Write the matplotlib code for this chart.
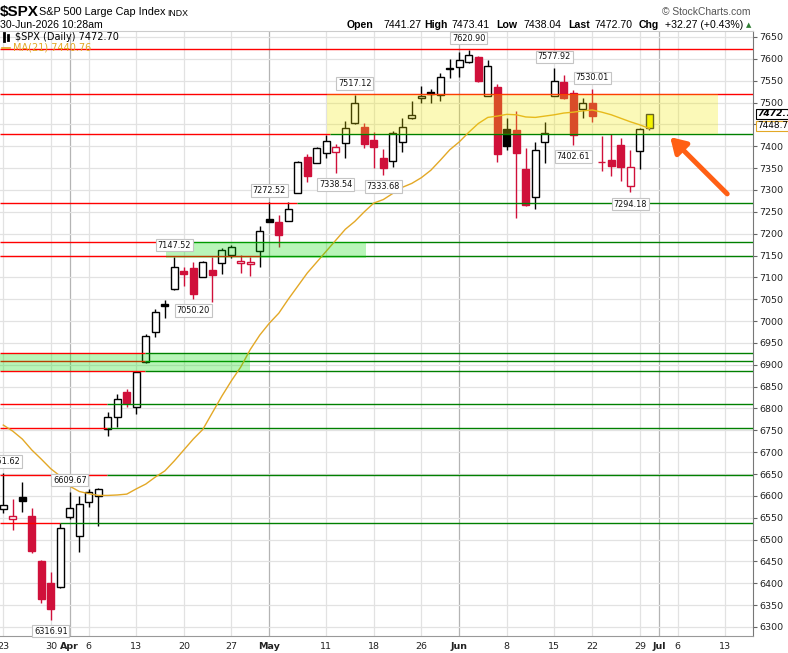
import numpy as np
import matplotlib
matplotlib.use("Agg")
import matplotlib.pyplot as plt
from matplotlib.patches import Rectangle

# ---- data --------------------------------------------------------------
# trading days from 23-Mar-2026 to 30-Jun-2026 (index 0..68)
opens = [6571, 6547, 6597, 6554, 6451, 6400, 6391, 6552, 6508, 6586,
         6600, 6753, 6781, 6838, 6803, 6906, 6975, 7039, 7073, 7115,
         7121, 7101, 7117, 7133, 7151, 7133, 7130, 7160, 7233, 7227,
         7229, 7293, 7375, 7362, 7385, 7387, 7407, 7453, 7444, 7414,
         7373, 7366, 7410, 7465, 7510, 7524, 7517, 7579, 7581, 7593,
         7604, 7515, 7536, 7439, 7437, 7348, 7284, 7410, 7515, 7547,
         7522, 7485, 7499, 7365, 7369, 7403, 7309, 7389, 7441.27]
highs = [6651.62, 6593, 6632, 6572, 6453, 6426, 6538, 6609.67, 6600, 6616,
         6617, 6792, 6833, 6845, 6884, 6970, 7028, 7048, 7147.52, 7124,
         7135, 7137, 7147, 7167, 7174, 7151, 7147, 7217, 7272.52, 7243,
         7272, 7366, 7382, 7398, 7426, 7405, 7458, 7517.12, 7453, 7433,
         7394, 7435, 7465, 7504, 7538, 7531, 7567, 7600, 7616, 7620.90,
         7606, 7597, 7542, 7465, 7481, 7396, 7410, 7455, 7577.92, 7563,
         7529, 7510, 7530.01, 7423, 7428, 7419, 7391, 7441, 7473.41]
lows = [6561, 6522, 6563, 6469, 6355, 6316.91, 6389, 6548, 6472, 6574,
        6531, 6737, 6758, 6803, 6787, 6903, 6964, 7007, 7072, 7080,
        7050.20, 7100, 7044, 7108, 7144, 7110, 7103, 7124, 7226, 7170,
        7229, 7292, 7318, 7361, 7373, 7338.54, 7373, 7452, 7396, 7350,
        7333.68, 7353, 7387, 7462, 7499, 7499, 7504, 7556, 7558, 7590,
        7547, 7514, 7364, 7391, 7236, 7263, 7256, 7362, 7514, 7508,
        7402.61, 7465, 7455, 7343, 7332, 7320, 7294.18, 7348, 7438.04]
closes = [6579, 6554, 6588, 6474, 6364, 6341, 6526, 6572, 6581, 6609,
          6616, 6780, 6822, 6812, 6883, 6966, 7021, 7035, 7124, 7108,
          7062, 7135, 7105, 7163, 7170, 7137, 7135, 7206, 7227, 7197,
          7256, 7364, 7332, 7396, 7412, 7398, 7442, 7499, 7405, 7398,
          7350, 7430, 7444, 7471, 7515, 7520, 7558, 7577, 7597, 7609,
          7549, 7584, 7382, 7400, 7385, 7266, 7391, 7430, 7549, 7510,
          7426, 7499, 7469, 7363, 7355, 7353, 7352, 7439, 7472.70]
ma21 = [6762, 6748, 6730, 6705, 6684, 6662, 6645, 6622, 6610, 6605,
        6601, 6601, 6602, 6604, 6616, 6627, 6643, 6657, 6680, 6705,
        6730, 6752, 6790, 6828, 6863, 6895, 6935, 6968, 6995, 7018,
        7050, 7080, 7110, 7135, 7160, 7185, 7210, 7228, 7250, 7270,
        7278, 7292, 7306, 7315, 7328, 7345, 7368, 7392, 7410, 7432,
        7452, 7466, 7469, 7473, 7472, 7467, 7466, 7469, 7472, 7476,
        7478, 7481, 7483, 7478, 7472, 7464, 7456, 7449, 7440.76]

# x-axis labels (trading-day index, text); month names are bold
tick_idx = [0, 5, 7, 9, 14, 19, 24, 28, 34, 39, 44, 48, 53, 58, 62, 67, 69, 71, 76]
tick_txt = ["23", "30", "Apr", "6", "13", "20", "27", "May", "11", "18", "26",
            "Jun", "8", "15", "22", "29", "Jul", "6", "13"]
tick_month = ["Apr", "May", "Jun", "Jul"]

# horizontal levels: price, index where line turns from red to green
levels = [7622, 7519, 7428, 7270, 7181, 7150, 6927, 6909, 6886, 6810, 6755, 6648, 6538]
level_switch = [None, None, 34.4, 30.9, 17.1, 27.0, 14.9, 14.9, 14.9, 10.9, 10.9, 10.9, 6.0]

# shaded zones: (start idx, end idx, low, high, colour)
zones = [(17.1, 38.2, 7144, 7181, "#00dd00"),
         (-0.4, 26.0, 6886, 6924, "#00dd00"),
         (34.1, 75.2, 7428, 7519, "#f2ea00")]

# price call-outs: (index, text, above/below)
callouts = [(0, "6651.62", 1), (7, "6609.67", 1), (5, "6316.91", -1),
            (20, "7050.20", -1), (18, "7147.52", 1), (28, "7272.52", 1),
            (35, "7338.54", -1), (40, "7333.68", -1), (37, "7517.12", 1),
            (49, "7620.90", 1), (58, "7577.92", 1), (62, "7530.01", 1),
            (60, "7402.61", -1), (66, "7294.18", -1)]

W, H = 788, 653
PX0, STEP = 3.3, 9.5          # pixel of first candle, pixels per day
PLOT_R, PLOT_T, PLOT_B = 752.5, 31, 636
PPT = 0.437                   # pixels per index point

fig = plt.figure(figsize=(W / 100, H / 100), dpi=100)
ax = fig.add_axes([0, (H - PLOT_B) / H, PLOT_R / W, (PLOT_B - PLOT_T) / H])
ax.set_xlim((0 - PX0) / STEP, (PLOT_R - PX0) / STEP)
ax.set_ylim(7650 - (PLOT_B - 37) / PPT, 7650 + (37 - PLOT_T) / PPT)

# grid
for t, s in zip(tick_idx, tick_txt):
    ax.axvline(t, color="#b4b4b4" if s in tick_month else "#e2e2e2", lw=0.9, zorder=0)
yt = np.arange(6300, 7651, 50)
for y in yt:
    ax.axhline(y, color="#e2e2e2", lw=0.9, zorder=0)

# candles
n = len(closes)
for i in range(n):
    o, h, l, c = opens[i], highs[i], lows[i], closes[i]
    red = i > 0 and c < closes[i - 1]
    filled = c < o
    edge = "#d0103a" if red else "black"
    if i == n - 1:
        face, edge = "#f7f700", "#333333"
    elif filled:
        face = edge
    else:
        face = "white"
    ax.vlines(i, l, h, color=edge, lw=1.0, zorder=2)
    lo, hi = min(o, c), max(o, c)
    if hi - lo < 2:
        lo, hi = lo - 1, hi + 1
    ax.add_patch(Rectangle((i - 0.36, lo), 0.72, hi - lo, facecolor=face,
                           edgecolor=edge, lw=1.0, zorder=2.5))

# support / resistance lines
x_lo, x_hi = ax.get_xlim()
for lev, sw in zip(levels, level_switch):
    if sw is None:
        ax.hlines(lev, x_lo, x_hi, color="#ff0000", lw=1.0, zorder=3)
    else:
        ax.hlines(lev, x_lo, sw, color="#ff0000", lw=1.0, zorder=3)
        ax.hlines(lev, sw, x_hi, color="#008000", lw=1.0, zorder=3)

# moving average
ax.plot(range(n), ma21, color="#e3a826", lw=1.0, zorder=3.5)

# zones
for x0, x1, y0, y1, col in zones:
    ax.add_patch(Rectangle((x0, y0), x1 - x0, y1 - y0, facecolor=col,
                           alpha=0.28, edgecolor="none", zorder=4))

# call-outs
for i, txt, side in callouts:
    p = highs[i] if side > 0 else lows[i]
    ax.annotate(txt, xy=(i, p), xytext=(0, 8.3 * side), textcoords="offset points",
                ha="center", va="center", fontsize=5.9, family="DejaVu Sans",
                color="#111111", zorder=6,
                bbox=dict(boxstyle="square,pad=0.22", fc="white", ec="#c4c4c4", lw=0.8))

# arrow annotation
ax.annotate("", xy=(70.2, 7421), xytext=(76.2, 7291),
            arrowprops=dict(arrowstyle="-|>,head_length=0.9,head_width=0.55",
                            color="#ff5f14", lw=3.6, shrinkA=0, shrinkB=0),
            zorder=7)

# axes styling (7450 is hidden behind the price tags in the original)
ax.yaxis.tick_right()
ax.set_yticks(yt)
ax.set_yticklabels(["" if v == 7450 else str(v) for v in yt],
                   fontsize=6.8, family="DejaVu Sans", color="#222222")
ax.tick_params(axis="y", direction="out", length=3, width=0.8, color="#666666", pad=2)
ax.set_xticks(tick_idx)
ax.set_xticklabels(tick_txt, fontsize=6.8, family="DejaVu Sans", color="#222222")
for lab in ax.get_xticklabels():
    if lab.get_text() in tick_month:
        lab.set_fontweight("bold")
ax.tick_params(axis="x", length=0, pad=4)
ax.spines["left"].set_visible(False)
ax.spines["right"].set_color("#777777")
ax.spines["bottom"].set_color("#999999")
ax.spines["top"].set_color("#cccccc")
for s in ax.spines.values():
    s.set_linewidth(0.8)


def ftext(x, y, s, **kw):
    fig.text(x / W, 1 - y / H, s, va="center", **kw)


SANS = "Liberation Sans"
ftext(0, 12, "$SPX", fontsize=11, fontweight="bold", family=SANS)
ftext(39, 12, "S&P 500 Large Cap Index", fontsize=7.8, family=SANS)
ftext(167, 13, "INDX", fontsize=6.3, family=SANS)
ftext(0, 25, "30-Jun-2026 10:28am", fontsize=7.6, family=SANS)
ftext(662, 12, "\u00a9 StockCharts.com", fontsize=7.4, family=SANS, color="#555555")
hdr = [(347, "Open", True), (383, "7441.27", False), (424, "High", True),
       (451, "7473.41", False), (496, "Low", True), (523, "7438.04", False),
       (568, "Last", True), (594, "7472.70", False), (639, "Chg", True),
       (665, "+32.27 (+0.43%)", False)]
for x, s, b in hdr:
    ftext(x, 25, s, fontsize=7.6, family=SANS, fontweight="bold" if b else "normal")
ftext(746, 25, "\u25b2", fontsize=5, family="DejaVu Sans", color="#2e7d32")

# legend inside the panel
ftext(15, 37, "$SPX (Daily) 7472.70", fontsize=7.0, family="DejaVu Sans")
ftext(13, 48, "MA(21) 7440.76", fontsize=7.0, family="DejaVu Sans", color="#e3a826")
fig.add_artist(plt.Line2D([2 / W, 10 / W], [1 - 48 / H, 1 - 48 / H], color="#e3a826", lw=1.2))
for k, (y0, y1) in enumerate([(33, 41), (35, 40)]):
    fig.add_artist(plt.Line2D([(4 + 4 * k) / W] * 2, [1 - y0 / H, 1 - y1 / H], color="black", lw=2))

# right-hand price tags
ftext(757, 114, "7472.7", fontsize=6.6, family="DejaVu Sans", fontweight="bold",
      fontstyle="italic",
      bbox=dict(boxstyle="square,pad=0.08", fc="white", ec="black", lw=0.8))
ftext(757, 126, "7448.7", fontsize=6.4, family="DejaVu Sans",
      bbox=dict(boxstyle="square,pad=0.08", fc="white", ec="#e3a826", lw=0.8))

fig.savefig("out.png", dpi=100)
